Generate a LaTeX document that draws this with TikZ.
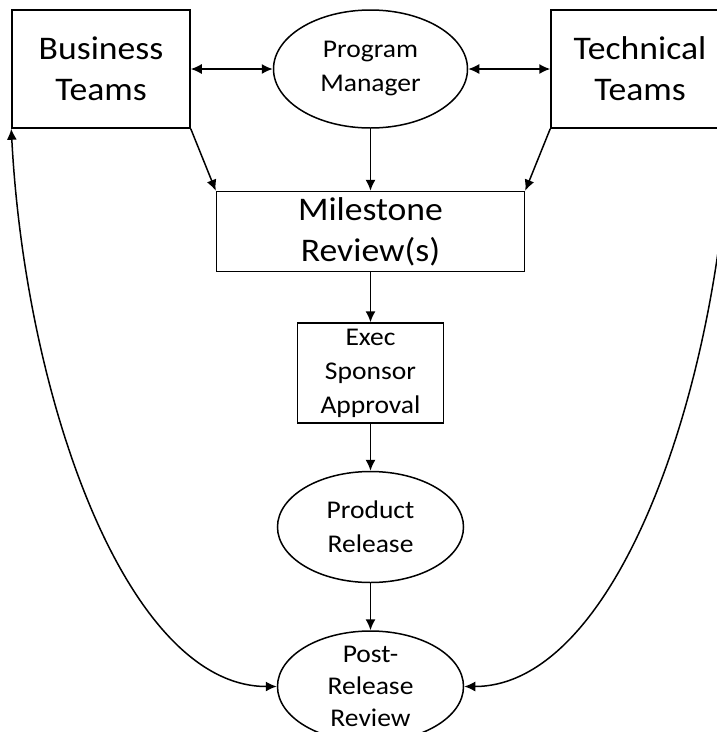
\documentclass[tikz,border=0pt]{standalone}
\usepackage{fontspec}
\setmainfont{Carlito}[FakeStretch=1.08]
\usetikzlibrary{positioning, arrows.meta, shapes.geometric}

\begin{document}
\begin{tikzpicture}[
		x=1pt, y=1pt,
		>={Latex[length=11pt, width=10pt]}, line width=1.5pt,
		bigtext/.style={font=\fontsize{33}{41}\selectfont},
		smalltext/.style={font=\fontsize{25.5}{34}\selectfont},
		team/.style={draw, rectangle, bigtext, align=center, inner sep=0pt, minimum width=178pt, minimum height=118pt},
		review/.style={draw, rectangle, bigtext, align=center, inner sep=0pt, minimum width=308pt, minimum height=80pt},
		gate/.style={draw, rectangle, smalltext, align=center, inner sep=0pt, minimum width=146pt, minimum height=100pt},
		oval/.style={draw, ellipse, smalltext, align=center, inner xsep=0pt, inner ysep=-12pt, minimum width=186pt, minimum height=111pt},
		flow/.style={->},
		link/.style={<->}
		]
		
		\useasboundingbox (0,0) rectangle (716,-732);
		
		% --- 1. Who feeds the reviews ---
		\node[team] (biz) at (101,-69) {Business\\Teams};
		\node[oval, minimum width=194pt, minimum height=118pt, right=82pt of biz] (pm) {Program\\Manager};
		\node[team, right=82pt of pm] (tech) {Technical\\Teams};
		
		\draw[link] (biz) -- (pm);
		\draw[link] (pm) -- (tech);
		
		% --- 2. The approval chain ---
		\node[review, below=62pt of pm] (ms) {Milestone\\Review(s)};
		\node[gate, below=50pt of ms] (exec) {Exec\\Sponsor\\Approval};
		\node[oval, below=47pt of exec] (prod) {Product\\Release};
		\node[oval, below=47pt of prod, font=\fontsize{25.5}{32}\selectfont] (post) {Post-\\Release\\Review};
		
		\draw[flow] (biz.south east) -- (ms.north west);
		\draw[flow] (pm) -- (ms);
		\draw[flow] (tech.south west) -- (ms.north east);
		\draw[flow] (ms) -- (exec);
		\draw[flow] (exec) -- (prod);
		\draw[flow] (prod) -- (post);
		
		% Feedback loops back to the teams
		\draw[link] (biz.south west) to[out=-87, in=180, out looseness=1.13, in looseness=0.62] (post.west);
		\draw[link] (tech.south east) to[out=-93, in=0, out looseness=1.13, in looseness=0.62] (post.east);
		
	\end{tikzpicture}
\end{document}
